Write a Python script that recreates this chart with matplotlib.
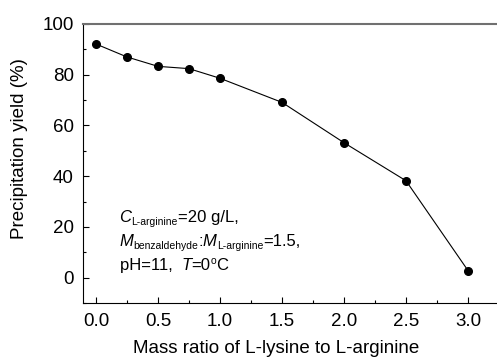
import matplotlib
matplotlib.use("Agg")
import matplotlib.pyplot as plt
from matplotlib.transforms import IdentityTransform

plt.rcParams["font.family"] = ["Liberation Sans", "DejaVu Sans"]

mass_ratio = [0.0, 0.25, 0.5, 0.75, 1.0, 1.5, 2.0, 2.5, 3.0]
yield_pct = [92.1, 87.0, 83.3, 82.4, 78.6, 69.1, 53.2, 38.2, 2.8]

x_ticks = [0.0, 0.5, 1.0, 1.5, 2.0, 2.5, 3.0]
y_ticks = [0, 20, 40, 60, 80, 100]

# condition note, one list of (text, kind) per line
note_lines = [
    [("C", "it"), ("L-arginine", "sub"), ("=20 g/L,", "rm")],
    [("M", "it"), ("benzaldehyde", "sub"), (":", "rm"), ("M", "it"),
     ("L-arginine", "sub"), ("=1.5,", "rm")],
    [("pH=11,  ", "rm"), ("T", "it"), ("=0", "rm"), ("o", "sup"), ("C", "rm")],
]
note_baselines = [22.0, 12.6, 3.1]

fig = plt.figure(figsize=(4.97, 3.6), dpi=100)
ax = fig.add_axes([83 / 497, 57 / 360, 414 / 497, 279 / 360])

ax.plot(mass_ratio, yield_pct, color="black", lw=0.8, marker="o",
        markersize=5.5, markerfacecolor="black", markeredgecolor="black")

ax.set_xlim(-0.105, 3.234)
ax.set_ylim(-10, 100)
ax.set_xticks(x_ticks)
ax.set_xticklabels([f"{v:.1f}" for v in x_ticks])
ax.set_xticks([0.25, 0.75, 1.25, 1.75, 2.25, 2.75], minor=True)
ax.set_yticks(y_ticks)
ax.set_yticks([-10, 10, 30, 50, 70, 90], minor=True)

ax.tick_params(which="both", direction="in", labelsize=13.5, top=False, right=False)
ax.tick_params(which="major", length=4, width=0.8)
ax.tick_params(which="minor", length=2.4, width=0.8)
ax.tick_params(axis="x", pad=7.5)
ax.tick_params(axis="y", pad=6.5)

ax.spines["right"].set_visible(False)
ax.spines["top"].set_color("#707070")
ax.spines["top"].set_linewidth(1.5)
ax.spines["left"].set_linewidth(0.8)
ax.spines["bottom"].set_linewidth(0.8)

ax.set_xlabel("Mass ratio of L-lysine to L-arginine", fontsize=13.5)
ax.set_ylabel("Precipitation yield (%)", fontsize=13.5)
ax.xaxis.set_label_coords(0.466, -0.131)
ax.yaxis.set_label_coords(-0.133, 0.552)

# draw the note piece by piece so the sub/superscripts can be small
renderer = fig.canvas.get_renderer()
styles = {
    "rm": dict(size=12, style="normal", dy=0),
    "it": dict(size=12, style="italic", dy=0),
    "sub": dict(size=7.5, style="normal", dy=-3),
    "sup": dict(size=7.5, style="normal", dy=6),
}
for pieces, yb in zip(note_lines, note_baselines):
    x_px, y_px = ax.transData.transform((0.19, yb))
    for s, kind in pieces:
        st = styles[kind]
        t = fig.text(x_px, y_px + st["dy"], s, transform=IdentityTransform(),
                     fontsize=st["size"], fontstyle=st["style"],
                     va="baseline", ha="left")
        x_px += t.get_window_extent(renderer).width

fig.savefig("out.png", dpi=100)
